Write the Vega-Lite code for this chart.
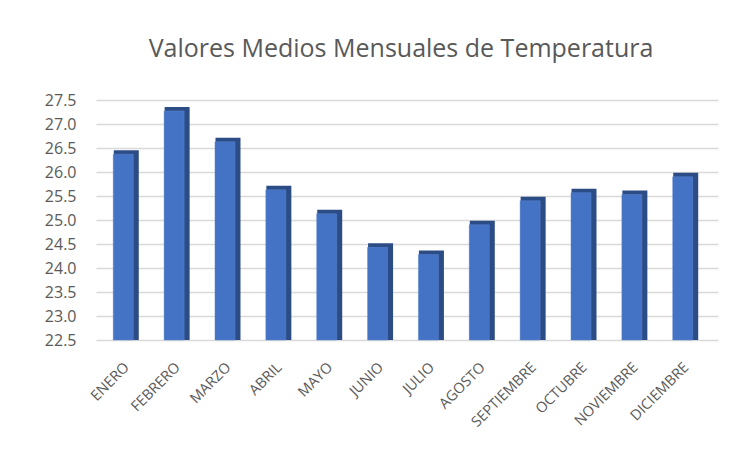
{
  "$schema": "https://vega.github.io/schema/vega-lite/v6.json",
  "width": 622,
  "height": 240,
  "autosize": "none",
  "padding": {"left": 96, "top": 100, "right": 33, "bottom": 115},
  "background": "white",
  "title": {
    "text": "Valores Medios Mensuales de Temperatura",
    "font": "Open Sans",
    "fontSize": 25,
    "fontWeight": "normal",
    "color": "#595959",
    "anchor": "middle",
    "frame": "group",
    "offset": 30,
    "dx": -6
  },
  "data": {
    "values": [
      {"mes": "ENERO", "temp": 26.37},
      {"mes": "FEBRERO", "temp": 27.27},
      {"mes": "MARZO", "temp": 26.63},
      {"mes": "ABRIL", "temp": 25.63},
      {"mes": "MAYO", "temp": 25.13},
      {"mes": "JUNIO", "temp": 24.43},
      {"mes": "JULIO", "temp": 24.28},
      {"mes": "AGOSTO", "temp": 24.9},
      {"mes": "SEPTIEMBRE", "temp": 25.4},
      {"mes": "OCTUBRE", "temp": 25.57},
      {"mes": "NOVIEMBRE", "temp": 25.53},
      {"mes": "DICIEMBRE", "temp": 25.9}
    ]
  },
  "encoding": {
    "x": {
      "field": "mes",
      "type": "nominal",
      "sort": null,
      "scale": {"paddingInner": 0.49, "paddingOuter": 0.36},
      "axis": {
        "title": null,
        "labelAngle": -45,
        "labelAlign": "right",
        "labelBaseline": "top",
        "labelPadding": 20,
        "labelOffset": -5,
        "labelFont": "Open Sans",
        "labelFontSize": 14.5,
        "labelColor": "#595959",
        "ticks": false,
        "domain": false,
        "grid": false
      }
    },
    "y": {
      "field": "temp",
      "type": "quantitative",
      "scale": {"domain": [22.5, 27.5], "nice": false, "zero": false},
      "axis": {
        "title": null,
        "values": [22.5, 23, 23.5, 24, 24.5, 25, 25.5, 26, 26.5, 27, 27.5],
        "format": ".1f",
        "labelFont": "Open Sans",
        "labelFontSize": 16,
        "labelColor": "#595959",
        "labelPadding": 20,
        "ticks": false,
        "domain": false,
        "grid": true,
        "gridColor": "#d9d9d9",
        "gridWidth": 1.5
      }
    },
    "y2": {"datum": 22.5}
  },
  "layer": [
    {
      "mark": {"type": "bar", "color": "#2c4c86", "width": 25, "xOffset": -1, "yOffset": -4}
    },
    {
      "mark": {"type": "bar", "color": "#4472c4", "width": 20, "xOffset": -4, "stroke": "#5b86d0", "strokeWidth": 0.5}
    }
  ],
  "config": {"view": {"stroke": null}}
}
